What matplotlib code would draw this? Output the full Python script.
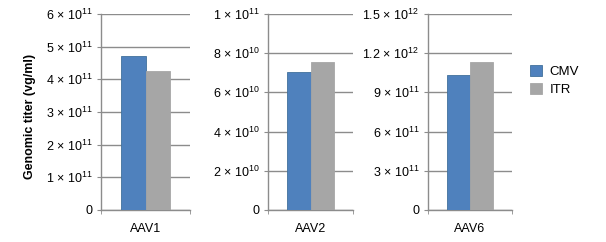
import matplotlib.pyplot as plt
from matplotlib.ticker import FixedLocator, FuncFormatter
from matplotlib.patches import Patch

plt.rcParams['font.family'] = ['Liberation Sans', 'DejaVu Sans']
plt.rcParams['mathtext.fontset'] = 'custom'
plt.rcParams['mathtext.rm'] = 'Liberation Sans'

# Data
serotypes = ["AAV1", "AAV2", "AAV6"]
cmv_titer = [4.72e11, 7.05e10, 1.03e12]
itr_titer = [4.25e11, 7.55e10, 1.13e12]
y_max = [6e11, 1e11, 1.5e12]
y_step = [1e11, 2e10, 3e11]
series_names = ["CMV", "ITR"]

cmv_color = "#4F81BD"
itr_color = "#A6A6A6"
grid_color = "#8C8C8C"

fig = plt.figure(figsize=(6.06, 2.42), dpi=100)
lefts = [101 / 606, 268 / 606, 427.7 / 606]
widths = [89 / 606, 85 / 606, 84.6 / 606]
bottom = 1 - 210 / 242
height = (210 - 14) / 242


def sci_label(v, pos):
    if v == 0:
        return "0"
    exp = 0
    m = v
    while m >= 10:
        m /= 10
        exp += 1
    m_str = "%g" % round(m, 2)
    return "%s \u00d7 10$^{%d}$" % (m_str, exp)


bw = 0.275
for i, name in enumerate(serotypes):
    ax = fig.add_axes([lefts[i], bottom, widths[i], height])
    ax.bar(-bw / 2, cmv_titer[i], width=bw, color=cmv_color, edgecolor="#41719C", linewidth=0.6, zorder=3)
    ax.bar(bw / 2, itr_titer[i], width=bw, color=itr_color, edgecolor="#A6A6A6", linewidth=0.6, zorder=3)
    ax.set_xlim(-0.5, 0.5)
    ax.set_ylim(0, y_max[i])
    n = int(round(y_max[i] / y_step[i]))
    ticks = [k * y_step[i] for k in range(n + 1)]
    ax.yaxis.set_major_locator(FixedLocator(ticks))
    ax.yaxis.set_major_formatter(FuncFormatter(sci_label))
    ax.grid(axis="y", color=grid_color, linewidth=1.0, zorder=0)
    ax.set_axisbelow(True)
    for s in ["top", "right"]:
        ax.spines[s].set_visible(False)
    for s in ["left", "bottom"]:
        ax.spines[s].set_color(grid_color)
        ax.spines[s].set_linewidth(1.0)
    ax.tick_params(axis="y", length=3, color=grid_color, labelsize=9, pad=3)
    ax.set_xticks([0])
    ax.set_xticklabels([name], fontsize=9)
    ax.tick_params(axis="x", which="major", length=0, pad=9)
    ax.set_xticks([-0.5, 0.5], minor=True)
    ax.tick_params(axis="x", which="minor", length=3, color=grid_color)

fig.text(0.05, 0.52, "Genomic titer (vg/ml)", rotation=90, fontsize=9,
         fontweight="bold", ha="center", va="center")

handles = [Patch(facecolor=cmv_color, edgecolor="#41719C", linewidth=0.6),
           Patch(facecolor=itr_color, edgecolor=itr_color, linewidth=0.6)]
fig.legend(handles, series_names, loc="upper left", bbox_to_anchor=(0.855, 0.78),
           frameon=False, fontsize=9.5, handlelength=0.9, handleheight=0.9,
           handletextpad=0.6, labelspacing=0.35)

fig.savefig("out.png", dpi=100)
